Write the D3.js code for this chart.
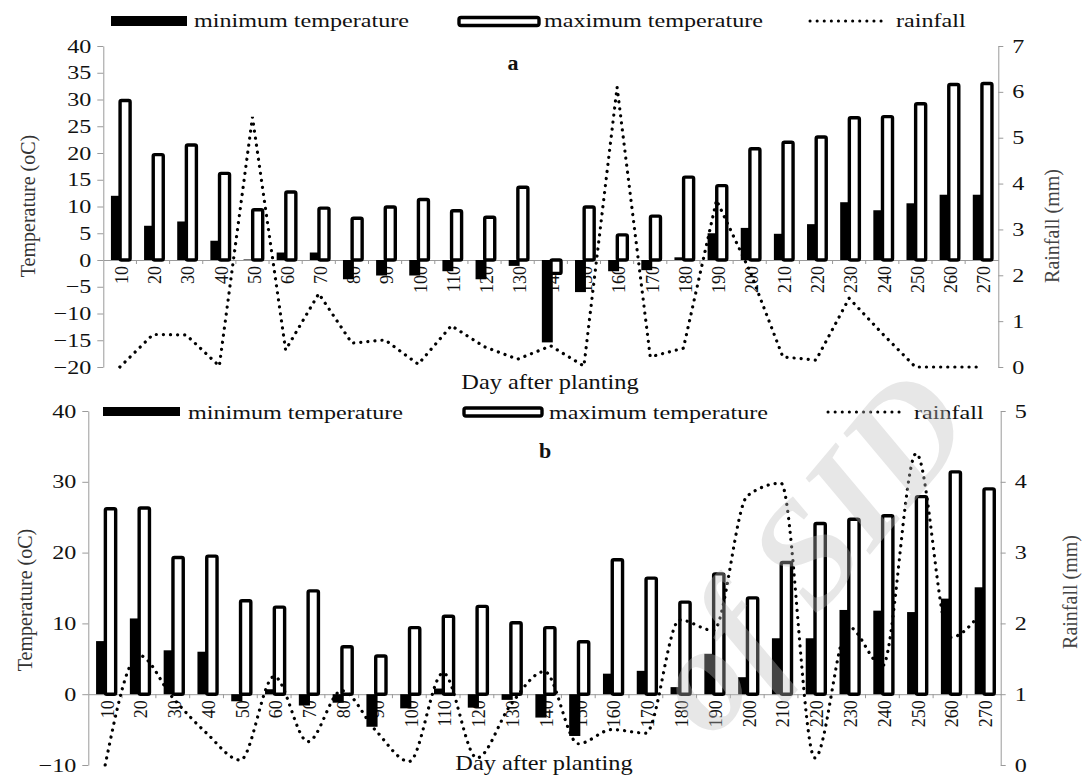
<!DOCTYPE html>
<html><head><meta charset="utf-8">
<script src="https://cdn.jsdelivr.net/npm/d3@7"></script>
<style>
body{margin:0;background:#fff}
svg{display:block}
svg text{font-family:"Liberation Serif","Times New Roman","DejaVu Serif",serif}
</style>
</head><body>
<svg id="chart" width="1088" height="778" font-family="Liberation Serif"></svg>
<script>
// ---------- data ----------
const days = [10,20,30,40,50,60,70,80,90,100,110,120,130,140,150,160,170,180,190,200,210,220,230,240,250,260,270];

// panel a
const minTempA = [12.0,6.4,7.2,3.6,0.1,1.4,1.4,-3.6,-2.9,-2.9,-2.1,-3.6,-1.1,-15.4,-6.0,-2.1,-1.9,0.5,5.0,6.0,4.9,6.7,10.8,9.3,10.6,12.2,12.2];
const maxTempA = [29.8,19.7,21.5,16.2,9.4,12.7,9.7,7.8,9.9,11.3,9.2,8.0,13.6,-2.5,9.9,4.7,8.2,15.5,13.9,20.8,22.0,23.0,26.6,26.8,29.2,32.8,33.0];
const rainA    = [0,0.71,0.7,0.02,5.45,0.37,1.6,0.52,0.59,0.06,0.9,0.44,0.17,0.46,0.02,6.1,0.22,0.41,3.64,2.1,0.22,0.15,1.5,0.73,0,0,0];

// panel b
const minTempB = [7.5,10.7,6.2,6.0,-1.0,0.7,-1.6,-1.2,-4.6,-2.0,0.8,-1.9,-0.8,-3.3,-5.9,2.9,3.3,1.0,5.7,2.4,7.9,7.9,11.9,11.8,11.6,13.5,15.1];
const maxTempB = [26.2,26.3,19.3,19.5,13.2,12.3,14.6,6.7,5.4,9.4,11.0,12.4,10.1,9.4,7.4,19.0,16.4,13.0,17.0,13.6,18.6,24.1,24.7,25.2,27.9,31.4,29.0];
const rainB    = [0,1.55,0.95,0.45,0.07,1.25,0.33,1.05,0.49,0.05,1.3,0.1,0.85,1.32,0.3,0.5,0.45,2.05,1.9,3.8,3.98,0.1,1.95,1.4,4.4,1.8,2.2];

const tempTicksA = [-20,-15,-10,-5,0,5,10,15,20,25,30,35,40];
const rainTicksA = [0,1,2,3,4,5,6,7];
const tempTicksB = [-10,0,10,20,30,40];
const rainTicksB = [0,1,2,3,4,5];

const legendLabels = ["minimum temperature","maximum temperature","rainfall"];
const xTitle = "Day after planting";
const yTitle = "Temperature (oC)";
const y2Title = "Rainfall (mm)";
const panelLabels = ["a","b"];
const watermarkText = "of SID";

// ---------- drawing ----------
const SERIF = '"Liberation Serif","Times New Roman","DejaVu Serif",serif';
const svg = d3.select("#chart");
const SX = 1.27;      // horizontal stretch of the original figure's text
const AXIS = "#9a9a9a";

function hText(g, x, y, str, size, opts = {}) {
  const t = g.append("text")
    .attr("transform", `translate(${x},${y}) scale(${opts.sx || SX},1)`)
    .attr("font-family", SERIF)
    .attr("font-size", size)
    .attr("fill", opts.fill || "#111")
    .attr("text-anchor", opts.anchor || "start")
    .text(str);
  if (opts.bold) t.attr("font-weight", "bold");
  return t;
}
function vText(g, cx, cy, str, size, fill) {
  g.append("text")
    .attr("transform", `translate(${cx},${cy}) rotate(-90)`)
    .attr("font-family", SERIF)
    .attr("font-size", size).attr("fill", fill)
    .attr("text-anchor", "middle").attr("dy", "0.35em")
    .text(str);
}

function panel(cfg) {
  const g = svg.append("g");
  const x = d3.scaleBand().domain(days).range([cfg.left, cfg.right]);
  const y = d3.scaleLinear().domain(cfg.tempDomain).range([cfg.bottom, cfg.top]);
  const y2 = d3.scaleLinear().domain(cfg.rainDomain).range([cfg.bottom, cfg.top]);
  const bw = x.bandwidth();
  const fmt = d3.format("d");

  // left axis
  const ax = g.append("g").attr("transform", `translate(${cfg.left},0)`)
    .call(d3.axisLeft(y).tickValues(cfg.tempTicks).tickFormat(fmt).tickSize(6).tickSizeOuter(0).tickPadding(6));
  // right axis
  const ax2 = g.append("g").attr("transform", `translate(${cfg.right},0)`)
    .call(d3.axisRight(y2).tickValues(cfg.rainTicks).tickFormat(fmt).tickSize(5).tickSizeOuter(0).tickPadding(9));
  [ax, ax2].forEach(a => {
    a.attr("font-family", SERIF);
    a.select(".domain").attr("stroke", AXIS);
    a.selectAll(".tick line").attr("stroke", AXIS);
    a.selectAll(".tick text").attr("font-size", 19).attr("fill", "#111")
      .attr("font-family", SERIF)
      .each(function () {
        const t = d3.select(this);
        const xx = +t.attr("x");
        t.attr("x", 0).attr("transform", `translate(${xx},0) scale(${SX},1)`);
      });
  });

  // x axis at temperature 0
  const y0 = y(0);
  const axb = g.append("g").attr("transform", `translate(0,${y0})`)
    .call(d3.axisBottom(x).tickSize(0).tickSizeOuter(0));
  axb.attr("font-family", SERIF);
  axb.select(".domain").attr("stroke", AXIS);
  axb.selectAll(".tick text")
    .attr("font-size", 18).attr("fill", "#111")
    .attr("font-family", SERIF)
    .attr("x", 0).attr("y", 0).attr("dy", "0.35em")
    .attr("text-anchor", "end")
    .attr("transform", "translate(2,6) rotate(-90)");
  g.append("g").selectAll("line").data(days.slice(1)).join("line")
    .attr("x1", d => x(d)).attr("x2", d => x(d))
    .attr("y1", y0).attr("y2", y0 + 4)
    .attr("stroke", AXIS);

  // minimum temperature bars
  g.append("g").selectAll("rect").data(days).join("rect")
    .attr("x", d => x(d) + bw * 0.23)
    .attr("width", bw * 0.33)
    .attr("y", (d, i) => y(Math.max(0, cfg.min[i])))
    .attr("height", (d, i) => Math.abs(y(cfg.min[i]) - y0))
    .attr("fill", "#000");

  // maximum temperature bars
  const sw = 3.4;
  g.append("g").selectAll("rect").data(days).join("rect")
    .attr("x", d => x(d) + bw * 0.455 + sw / 2)
    .attr("width", bw * 0.405 - sw)
    .attr("y", (d, i) => y(Math.max(0, cfg.max[i])))
    .attr("height", (d, i) => Math.abs(y(cfg.max[i]) - y0))
    .attr("rx", 1.5)
    .attr("fill", "#fff").attr("stroke", "#000").attr("stroke-width", sw);

  // rainfall line
  const line = d3.line()
    .x((d, i) => x(days[i]) + bw / 2)
    .y(d => y2(d))
    .curve(cfg.curve);
  g.append("path").datum(cfg.rain).attr("d", line)
    .attr("fill", "none").attr("stroke", "#000").attr("stroke-width", 3.2)
    .attr("stroke-linecap", "round").attr("stroke-dasharray", "0.1 7");

  // legend
  const L = cfg.legend;
  g.append("rect").attr("x", L.r1[0]).attr("y", L.r1[1]).attr("width", L.r1[2]).attr("height", L.r1[3]).attr("fill", "#000");
  hText(g, L.t1, L.base, legendLabels[0], 19);
  g.append("rect").attr("x", L.r2[0]).attr("y", L.r2[1]).attr("width", L.r2[2]).attr("height", L.r2[3])
    .attr("rx", 2).attr("fill", "#fff").attr("stroke", "#000").attr("stroke-width", 3.4);
  hText(g, L.t2, L.base, legendLabels[1], 19);
  g.append("line").attr("x1", L.d[0]).attr("x2", L.d[1]).attr("y1", L.d[2]).attr("y2", L.d[2])
    .attr("stroke", "#000").attr("stroke-width", 3).attr("stroke-linecap", "round").attr("stroke-dasharray", "0.1 7");
  hText(g, L.t3, L.base, legendLabels[2], 19);

  // panel letter and titles
  hText(g, cfg.letter[0], cfg.letter[1], cfg.letterText, 20, { bold: true, anchor: "middle", sx: 1.1 });
  hText(g, cfg.xt[0], cfg.xt[1], xTitle, 20, { anchor: "middle", sx: 1.22 });
  vText(g, cfg.yt[0], cfg.yt[1], yTitle, 20, "#333");
  vText(g, cfg.y2t[0], cfg.y2t[1], y2Title, 20, "#444");
}

panel({
  left: 103.3, right: 998.3, top: 46, bottom: 367,
  tempDomain: [-20, 40], rainDomain: [0, 7],
  tempTicks: tempTicksA, rainTicks: rainTicksA,
  min: minTempA, max: maxTempA, rain: rainA, curve: d3.curveLinear,
  legend: { r1: [111, 16, 76, 10], r2: [459, 17.5, 80, 8], d: [810, 882, 21], t1: 194, t2: 544, t3: 896, base: 27 },
  letter: [513, 70], letterText: panelLabels[0],
  xt: [550, 389], yt: [28, 206], y2t: [1052, 226]
});

panel({
  left: 88.3, right: 1000.7, top: 411, bottom: 765,
  tempDomain: [-10, 40], rainDomain: [0, 5],
  tempTicks: tempTicksB, rainTicks: rainTicksB,
  min: minTempB, max: maxTempB, rain: rainB, curve: d3.curveMonotoneX,
  legend: { r1: [103, 407, 77, 9], r2: [464, 408, 78, 8], d: [828, 901, 412], t1: 188, t2: 549, t3: 914, base: 419 },
  letter: [545, 458], letterText: panelLabels[1],
  xt: [544, 770], yt: [25, 600], y2t: [1070, 592]
});

// faint watermark of the source, translucent over the lower panel
svg.append("text")
  .attr("transform", "translate(805,550) rotate(-50)")
  .attr("font-family", '"Liberation Sans",Arial,sans-serif')
  .attr("font-weight", "bold").attr("font-style", "italic")
  .attr("font-size", 150).attr("text-anchor", "middle").attr("dy", "0.35em")
  .attr("fill", "#bdbdbd").attr("opacity", 0.36)
  .text(watermarkText);
</script>
</body></html>
